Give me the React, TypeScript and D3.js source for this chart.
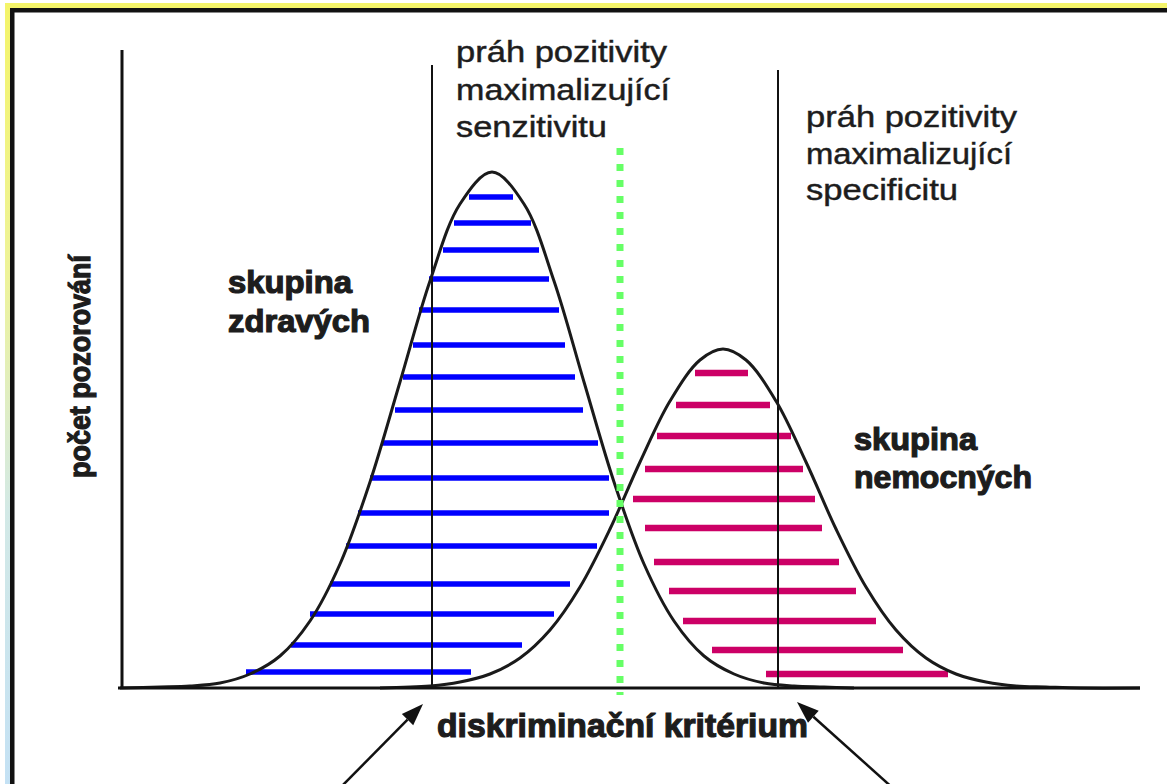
import React, { useEffect } from 'react';
import * as d3 from 'd3';

const W = 1167;
const H = 784;

// Healthy group distribution: [criterion, count]
const healthyCurve: [number, number][] = [
  [0, 0], [40, 1], [70, 2], [100, 5], [130, 14], [160, 32], [190, 67], [220, 124],
  [250, 206], [280, 306], [310, 407], [340, 484], [372, 516], [404, 484], [434, 407],
  [464, 306], [494, 206], [524, 124], [554, 67], [584, 32], [614, 14], [644, 5],
  [674, 2], [704, 1], [734, 0],
];
// Sick group distribution: [criterion, count]
const sickCurve: [number, number][] = [
  [260, 0], [310, 2], [340, 6], [370, 14], [400, 30], [430, 58], [460, 101], [490, 159],
  [520, 226], [550, 287], [580, 328], [603, 339], [626, 328], [656, 287], [686, 226],
  [716, 159], [746, 101], [776, 58], [806, 30], [836, 14], [866, 6], [896, 2],
  [926, 1], [960, 0], [1020, 0],
];

// Hatching of the healthy group
const healthyBarCounts = [491, 465, 438, 409, 378, 343, 311, 278, 245, 210, 175, 142, 104, 74, 43, 16];
const healthyBarStarts = [349, 334, 323, 309, 299, 293, 283, 275, 262, 250, 238, 226, 210, 190, 171, 126];
const healthyBarEnds = [393, 411, 419, 429, 439, 445, 455, 463, 478, 489, 489, 477, 450, 434, 402, 351];

// Hatching of the sick group
const sickBarCounts = [315, 283, 252, 219, 189, 160, 126, 97, 67, 38, 14];
const sickBarStarts = [575, 556, 537, 525, 513, 525, 534, 549, 563, 592, 646];
const sickBarEnds = [628, 650, 671, 683, 695, 702, 719, 736, 756, 783, 828];

// Thresholds on the criterion axis
const sensitivityThreshold = 312;
const specificityThreshold = 658;
const optimalThreshold = 500;
const thresholdTops = [623, 618];
const optimalRange: [number, number] = [-7, 540];

const xMax = 1020;
const yMax = 638;

const FONT = "'Liberation Sans Narrow','Arial Narrow','Liberation Sans',Arial,sans-serif";
const TEXT = '#1d1d1d';

function Arrow({ tip, tail }: { tip: [number, number]; tail: [number, number] }) {
  const dx = tip[0] - tail[0];
  const dy = tip[1] - tail[1];
  const len = Math.hypot(dx, dy);
  const ux = dx / len;
  const uy = dy / len;
  const hl = 22;
  const hw = 8;
  const bx = tip[0] - ux * hl;
  const by = tip[1] - uy * hl;
  const pts = [
    [tip[0], tip[1]],
    [bx - uy * hw, by + ux * hw],
    [bx + uy * hw, by - ux * hw],
  ];
  return (
    <g>
      <line x1={tail[0]} y1={tail[1]} x2={bx} y2={by} stroke="#111" strokeWidth={2.5} />
      <polygon points={pts.map((p) => p.join(',')).join(' ')} fill="#111" />
    </g>
  );
}

export default function App() {
  useEffect(() => {
    document.body.style.margin = '0';
  }, []);

  const x = d3.scaleLinear().domain([0, xMax]).range([120, 1140]);
  const y = d3.scaleLinear().domain([0, yMax]).range([688, 50]);

  const line = d3
    .line<[number, number]>()
    .x((d) => x(d[0]))
    .y((d) => y(d[1]))
    .curve(d3.curveCatmullRom.alpha(0.5));

  return (
    <svg
      width={W}
      height={H}
      viewBox={`0 0 ${W} ${H}`}
      style={{ position: 'absolute', left: 0, top: 0, background: '#fff' }}
    >
      <defs>
        <linearGradient id="leftEdge" x1="0" y1="0" x2="0" y2="1">
          <stop offset="0%" stopColor="#f4f46a" />
          <stop offset="35%" stopColor="#eef39a" />
          <stop offset="65%" stopColor="#d3e9e6" />
          <stop offset="100%" stopColor="#c4e1f4" />
        </linearGradient>
      </defs>
      <rect x={0} y={0} width={W} height={H} fill="#ffffff" />
      {/* frame */}
      <rect x={5} y={3} width={W - 5} height={5} fill="#f4f46a" />
      <rect x={5} y={3} width={5} height={H - 3} fill="url(#leftEdge)" />
      <rect x={10} y={8} width={W - 10} height={4.5} fill="#111" />
      <rect x={10} y={8} width={4.5} height={H - 8} fill="#111" />

      {/* hatching */}
      {healthyBarCounts.map((c, i) => (
        <line
          key={`h${i}`}
          x1={x(healthyBarStarts[i])}
          x2={x(healthyBarEnds[i])}
          y1={y(c)}
          y2={y(c)}
          stroke="#0000ff"
          strokeWidth={5.5}
        />
      ))}
      {sickBarCounts.map((c, i) => (
        <line
          key={`s${i}`}
          x1={x(sickBarStarts[i])}
          x2={x(sickBarEnds[i])}
          y1={y(c)}
          y2={y(c)}
          stroke="#cc0066"
          strokeWidth={6.5}
        />
      ))}

      {/* thresholds */}
      <line
        x1={x(sensitivityThreshold)}
        x2={x(sensitivityThreshold)}
        y1={y(0)}
        y2={y(thresholdTops[0])}
        stroke="#111"
        strokeWidth={2}
      />
      <line
        x1={x(specificityThreshold)}
        x2={x(specificityThreshold)}
        y1={y(0)}
        y2={y(thresholdTops[1])}
        stroke="#111"
        strokeWidth={2}
      />

      {/* curves */}
      <path d={line(healthyCurve) || ''} fill="none" stroke="#1a1a1a" strokeWidth={3} />
      <path d={line(sickCurve) || ''} fill="none" stroke="#1a1a1a" strokeWidth={3} />

      {/* axes */}
      <line x1={x(2)} x2={x(2)} y1={y(0)} y2={y(yMax)} stroke="#111" strokeWidth={3} />
      <line x1={x(-2)} x2={x(xMax)} y1={y(0)} y2={y(0)} stroke="#111" strokeWidth={3} />

      {/* optimal threshold */}
      <line
        x1={x(optimalThreshold)}
        x2={x(optimalThreshold)}
        y1={y(optimalRange[1])}
        y2={y(optimalRange[0])}
        stroke="#66ff66"
        strokeWidth={7}
        strokeDasharray="7 9"
      />

      {/* texts */}
      <g fontFamily={FONT} fill={TEXT} fontSize={29} stroke={TEXT} strokeWidth={0.45}>
        <text x={456} y={62} textLength={211} lengthAdjust="spacingAndGlyphs">práh pozitivity</text>
        <text x={456} y={100} textLength={214} lengthAdjust="spacingAndGlyphs">maximalizující</text>
        <text x={456} y={137} textLength={151} lengthAdjust="spacingAndGlyphs">senzitivitu</text>
        <text x={806} y={127} textLength={211} lengthAdjust="spacingAndGlyphs">práh pozitivity</text>
        <text x={806} y={164} textLength={206} lengthAdjust="spacingAndGlyphs">maximalizující</text>
        <text x={806} y={200} textLength={152} lengthAdjust="spacingAndGlyphs">specificitu</text>
      </g>
      <g fontFamily={FONT} fill={TEXT} fontWeight={700} stroke={TEXT} strokeWidth={1.2}>
        <text x={228} y={293} fontSize={31} textLength={124} lengthAdjust="spacingAndGlyphs">skupina</text>
        <text x={228} y={332} fontSize={31} textLength={142} lengthAdjust="spacingAndGlyphs">zdravých</text>
        <text x={854} y={450} fontSize={31} textLength={123} lengthAdjust="spacingAndGlyphs">skupina</text>
        <text x={854} y={488} fontSize={31} textLength={178} lengthAdjust="spacingAndGlyphs">nemocných</text>
        <text x={437} y={737} fontSize={34} textLength={371} lengthAdjust="spacingAndGlyphs">diskriminační kritérium</text>
        <text
          transform="translate(90,478) rotate(-90)"
          fontSize={29}
          textLength={223}
          lengthAdjust="spacingAndGlyphs"
        >
          počet pozorování
        </text>
      </g>

      {/* arrows */}
      <Arrow tip={[423, 704]} tail={[338, 790]} />
      <Arrow tip={[797, 702]} tail={[895, 790]} />
    </svg>
  );
}
